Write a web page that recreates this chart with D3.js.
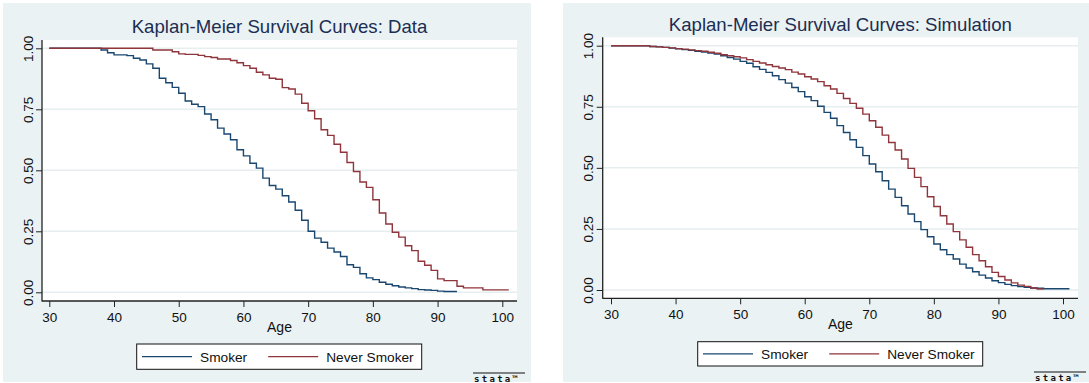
<!DOCTYPE html>
<html>
<head>
<meta charset="utf-8">
<script src="https://cdnjs.cloudflare.com/ajax/libs/d3/7.8.5/d3.min.js"></script>
<style>
body{margin:0;background:white;}
svg{display:block;font-family:"Liberation Sans",Arial,sans-serif;}
</style>
</head>
<body>
<script>
var grupy=["Smoker","Never Smoker"];
var kolory=["#1a476f","#90353b"];
var tytuly=["Kaplan-Meier Survival Curves: Data","Kaplan-Meier Survival Curves: Simulation"];
var opisOsiX="Age";
var tickiX=[30,40,50,60,70,80,90,100];
var tickiY=[0,0.25,0.5,0.75,1];
var wiekStart=30;

// przezycie S(t) rok po roku od 30 lat, linia konczy sie rok po ostatniej wartosci
var daneSmoker=[1,1,1,1,1,1,1,1,
	0.993,0.982,0.973,0.973,0.970,0.959,0.952,0.936,0.918,0.877,
	0.859,0.840,0.816,0.784,0.771,0.761,0.731,0.707,0.673,0.649,
	0.625,0.584,0.559,0.529,0.509,0.468,0.438,0.423,0.396,0.370,
	0.336,0.295,0.250,0.222,0.205,0.181,0.165,0.147,0.113,0.102,
	0.076,0.059,0.052,0.041,0.033,0.027,0.022,0.018,0.015,0.011,
	0.0095,0.008,0.005,0.003,0.003];
var daneNever=[1,1,1,1,1,1,1,1,1,1,1,1,1,1,1,1,
	0.993,0.993,0.993,0.986,0.977,0.975,0.975,0.971,0.966,0.962,
	0.956,0.956,0.950,0.941,0.929,0.918,0.902,0.891,0.877,0.873,
	0.839,0.833,0.812,0.775,0.744,0.711,0.666,0.643,0.607,0.574,
	0.532,0.495,0.452,0.430,0.379,0.325,0.280,0.246,0.226,0.191,
	0.171,0.127,0.111,0.090,0.055,0.048,0.048,0.025,0.018,0.018,
	0.018,0.010,0.010,0.010,0.010];
var symSmoker=[1,1,1,1,1,1,
	0.997,0.995,0.993,0.990,0.987,0.984,0.981,0.977,0.974,0.970,
	0.966,0.959,0.952,0.945,0.936,0.928,0.914,0.903,0.891,0.877,
	0.861,0.847,0.829,0.812,0.791,0.775,0.752,0.727,0.703,0.673,
	0.645,0.615,0.584,0.550,0.516,0.484,0.447,0.413,0.379,0.345,
	0.311,0.280,0.247,0.218,0.188,0.165,0.145,0.127,0.106,0.090,
	0.075,0.061,0.049,0.038,0.030,0.023,0.018,0.014,0.011,0.008,
	0.007,0.005,0.005,0.005,0.005];
var symNever=[1,1,1,1,1,1,
	0.997,0.995,0.993,0.991,0.988,0.986,0.983,0.980,0.977,0.973,
	0.969,0.963,0.959,0.955,0.950,0.943,0.936,0.929,0.922,0.915,
	0.909,0.902,0.892,0.884,0.873,0.864,0.853,0.836,0.823,0.805,
	0.784,0.764,0.744,0.720,0.693,0.666,0.634,0.604,0.573,0.536,
	0.498,0.461,0.423,0.382,0.342,0.304,0.270,0.239,0.205,0.175,
	0.145,0.120,0.095,0.072,0.055,0.041,0.029,0.020,0.015,0.008,
	0.004];

var svg=d3.select("body").append("svg")
	.attr("width",1089)
	.attr("height",383);

function naPunkty(wartosci)
{
	var punkty=[];
	for(var i=0;i<wartosci.length;i++)
		punkty.push([wiekStart+i,wartosci[i]]);
	punkty.push([wiekStart+wartosci.length,wartosci[wartosci.length-1]]);
	return punkty;
}

function rysujPanel(p,tytul,serie)
{
	var g=svg.append("g");
	//tlo
	g.append("rect").attr("x",p.tlo[0]).attr("y",p.tlo[1])
		.attr("width",p.tlo[2]).attr("height",p.tlo[3])
		.style("fill","#eaf2f3");
	g.append("rect").attr("x",p.l).attr("y",p.t)
		.attr("width",p.r-p.l).attr("height",p.b-p.t)
		.style("fill","white");

	var x=d3.scaleLinear().domain([30,100]).range(p.xr);
	var y=d3.scaleLinear().domain([0,1]).range(p.yr);

	//siatka
	g.selectAll(".siatka").data(tickiY).enter().append("line")
		.attr("x1",p.l).attr("x2",p.r)
		.attr("y1",function(d){return y(d);})
		.attr("y2",function(d){return y(d);})
		.style("stroke","#e6eef0")
		.style("stroke-width",1.5);

	//krzywe
	var linia=d3.line()
		.x(function(d){return x(d[0]);})
		.y(function(d){return y(d[1]);})
		.curve(d3.curveStepAfter);
	for(var j=0;j<serie.length;j++)
	{
		g.append("path").attr("d",linia(naPunkty(serie[j])))
			.style("fill","none")
			.style("stroke",kolory[j])
			.style("stroke-width",1.4);
	}

	//osie
	var osY=g.append("g").attr("transform","translate("+p.l+",0)")
		.call(d3.axisLeft(y).tickValues(tickiY).tickFormat(d3.format(".2f")).tickSize(6));
	osY.select(".domain").remove();
	osY.selectAll("text")
		.attr("transform","rotate(-90)")
		.attr("x",0).attr("y",-9.5).attr("dy",0)
		.style("text-anchor","middle")
		.style("font-size","13.5px")
		.style("fill","#111");
	var osX=g.append("g").attr("transform","translate(0,"+p.b+")")
		.call(d3.axisBottom(x).tickValues(tickiX).tickSize(6).tickPadding(5.5));
	osX.select(".domain").remove();
	osX.selectAll("text").style("font-size","13.5px").style("font-family","inherit").style("fill","#111");
	osY.selectAll("text").style("font-family","inherit");
	g.selectAll(".tick line").style("stroke","#222");
	g.append("line").attr("x1",p.l).attr("x2",p.l).attr("y1",p.t).attr("y2",p.b+0.5)
		.style("stroke","#222").style("stroke-width",1.3);
	g.append("line").attr("x1",p.l).attr("x2",p.r).attr("y1",p.b).attr("y2",p.b)
		.style("stroke","#222").style("stroke-width",1.3);

	//tytul i opis osi
	var srodek=(p.l+p.r)/2;
	g.append("text").attr("x",srodek).attr("y",p.tytulY)
		.attr("text-anchor","middle")
		.style("font-size","18.6px")
		.style("fill","#1c2d52")
		.text(tytul);
	g.append("text").attr("x",srodek).attr("y",p.b+30.7)
		.attr("text-anchor","middle")
		.style("font-size","14px")
		.style("fill","#111")
		.text(opisOsiX);

	//legenda
	var leg=g.append("g").attr("transform","translate("+p.leg[0]+","+p.leg[1]+")");
	leg.append("rect").attr("width",285).attr("height",p.leg[2])
		.style("fill","white").style("stroke","#111").style("stroke-width",1);
	var przes=[5.3,131.5];
	for(var k=0;k<grupy.length;k++)
	{
		leg.append("line").attr("x1",przes[k]).attr("x2",przes[k]+50)
			.attr("y1",p.leg[2]/2).attr("y2",p.leg[2]/2)
			.style("stroke",kolory[k]).style("stroke-width",1.4);
		leg.append("text").attr("x",przes[k]+58).attr("y",p.leg[2]/2+5)
			.style("font-size","13.7px").style("fill","#111")
			.text(grupy[k]);
	}

	//logo
	var logo=g.append("g").attr("transform","translate("+p.logo[0]+","+p.logo[1]+")");
	logo.append("line").attr("x1",0).attr("x2",52).attr("y1",0.5).attr("y2",0.5)
		.style("stroke","#111").style("stroke-width",1.2);
	logo.append("text").attr("x",1).attr("y",9)
		.style("font-size","9px").style("font-weight","bold")
		.style("letter-spacing","2.3px").style("fill","#111")
		.style("font-family","'DejaVu Sans Mono',monospace")
		.text("stata\u2122");
}

var panelLewy={tlo:[3,3,528,379],l:42,t:40,r:517,b:301,
	xr:[49.3,502.3],yr:[292.3,48.3],tytulY:33,leg:[136.7,344,25.3],logo:[473,372.5]};
var panelPrawy={tlo:[563,3,526,379],l:602.7,t:37.3,r:1078,b:298.3,
	xr:[611,1063],yr:[290,45.7],tytulY:31,leg:[697.7,341.7,24.3],logo:[1034,371.5]};

rysujPanel(panelLewy,tytuly[0],[daneSmoker,daneNever]);
rysujPanel(panelPrawy,tytuly[1],[symSmoker,symNever]);
</script>
</body>
</html>
